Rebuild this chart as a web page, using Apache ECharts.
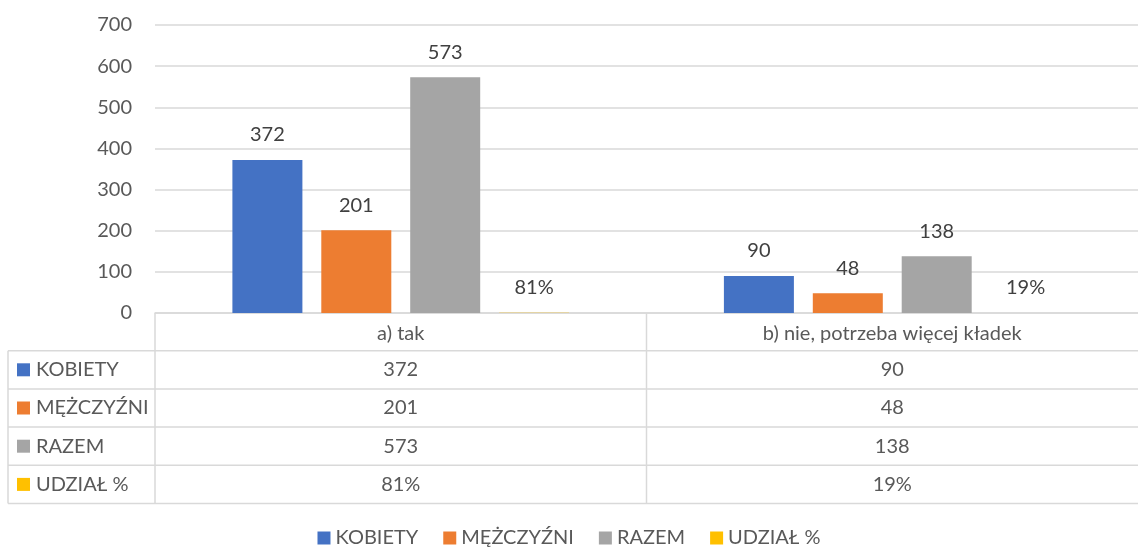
<!DOCTYPE html>
<html>
<head>
<meta charset="utf-8">
<script src="https://cdn.jsdelivr.net/npm/echarts@6/dist/echarts.min.js"></script>
<style>
  html, body { margin: 0; padding: 0; background: #fff; }
  #main { width: 1138px; height: 548px; }
</style>
</head>
<body>
<div id="main"></div>
<script>
// dane z wykresu
var categories = ['a) tak', 'b) nie, potrzeba więcej kładek'];
var seriesNames = ['KOBIETY', 'MĘŻCZYŹNI', 'RAZEM', 'UDZIAŁ %'];
var kobiety = [372, 90];
var mezczyzni = [201, 48];
var razem = [573, 138];
var udzial = [0.81, 0.19];
var yTicks = [0, 100, 200, 300, 400, 500, 600, 700];

var colors = ['#4472C4', '#ED7D31', '#A5A5A5', '#FFC000'];
var FONT = 'Lato';
var FS = 20;

function pct(v) { return Math.round(v * 100) + '%'; }

var myChart = echarts.init(document.getElementById('main'));

function makeSeries(name, data, color, isPct) {
    return {
        name: name,
        type: 'bar',
        data: data,
        barWidth: 70,
        barGap: '27%',
        itemStyle: { color: color },
        label: {
            show: true,
            position: 'top',
            distance: 15,
            fontFamily: FONT,
            fontSize: FS,
            color: '#404040',
            formatter: function (p) { return isPct ? pct(p.value) : p.value; }
        },
        emphasis: { disabled: true }
    };
}

var option = {
    animation: false,
    color: colors,
    grid: { left: 155, right: 0, top: 25, bottom: 235 },
    legend: {
        bottom: 0,
        padding: 0,
        left: 'center',
        icon: 'rect',
        itemWidth: 13,
        itemHeight: 13,
        itemGap: 25,
        textStyle: { fontFamily: FONT, fontSize: FS, color: '#595959' },
        data: seriesNames
    },
    xAxis: {
        type: 'category',
        data: categories,
        axisLine: { show: true, lineStyle: { color: '#D9D9D9', width: 1.5 } },
        axisTick: { show: false },
        axisLabel: { fontFamily: FONT, fontSize: FS, color: '#595959', margin: 11 }
    },
    yAxis: {
        type: 'value',
        min: yTicks[0],
        max: yTicks[yTicks.length - 1],
        interval: 100,
        axisLine: { show: false },
        axisTick: { show: false },
        axisLabel: { fontFamily: FONT, fontSize: FS, color: '#595959', margin: 23 },
        splitLine: { lineStyle: { color: '#D9D9D9', width: 1.5 } }
    },
    series: [
        makeSeries(seriesNames[0], kobiety, colors[0], false),
        makeSeries(seriesNames[1], mezczyzni, colors[1], false),
        makeSeries(seriesNames[2], razem, colors[2], false),
        makeSeries(seriesNames[3], udzial, colors[3], true)
    ]
};

myChart.setOption(option);

// tabela danych pod wykresem
var tableRows = [kobiety, mezczyzni, razem, udzial];
var axisY = 313, headerBottom = 350.7, rowH = 38.2;
var leftX = 8, rightX = 1138;
var lineStyle = { stroke: '#D9D9D9', lineWidth: 1.5 };
var g = [];
var tableBottom = headerBottom + rowH * tableRows.length;

var cx = categories.map(function (c) { return myChart.convertToPixel({ xAxisIndex: 0 }, c); });
var bandW = cx.length > 1 ? cx[1] - cx[0] : 0;

// linie poziome
for (var r = 0; r <= tableRows.length; r++) {
    var y = headerBottom + r * rowH;
    g.push({ type: 'line', shape: { x1: leftX, y1: y, x2: rightX, y2: y }, style: lineStyle });
}
// linie pionowe
g.push({ type: 'line', shape: { x1: leftX, y1: headerBottom, x2: leftX, y2: tableBottom }, style: lineStyle });
for (var c = 0; c < categories.length; c++) {
    var vx = cx[c] - bandW / 2;
    g.push({ type: 'line', shape: { x1: vx, y1: axisY, x2: vx, y2: tableBottom }, style: lineStyle });
}

// wiersze
tableRows.forEach(function (row, i) {
    var yc = headerBottom + i * rowH + rowH / 2;
    g.push({ type: 'rect', shape: { x: 17, y: yc - 6.5, width: 13, height: 13 }, style: { fill: colors[i] } });
    g.push({
        type: 'text', x: 36, y: yc,
        style: { text: seriesNames[i], fontFamily: FONT, fontSize: FS, fill: '#595959', verticalAlign: 'middle', align: 'left' }
    });
    row.forEach(function (v, j) {
        g.push({
            type: 'text', x: cx[j], y: yc,
            style: { text: i === 3 ? pct(v) : String(v), fontFamily: FONT, fontSize: FS, fill: '#595959', verticalAlign: 'middle', align: 'center' }
        });
    });
});

myChart.setOption({ graphic: g });
</script>
</body>
</html>
